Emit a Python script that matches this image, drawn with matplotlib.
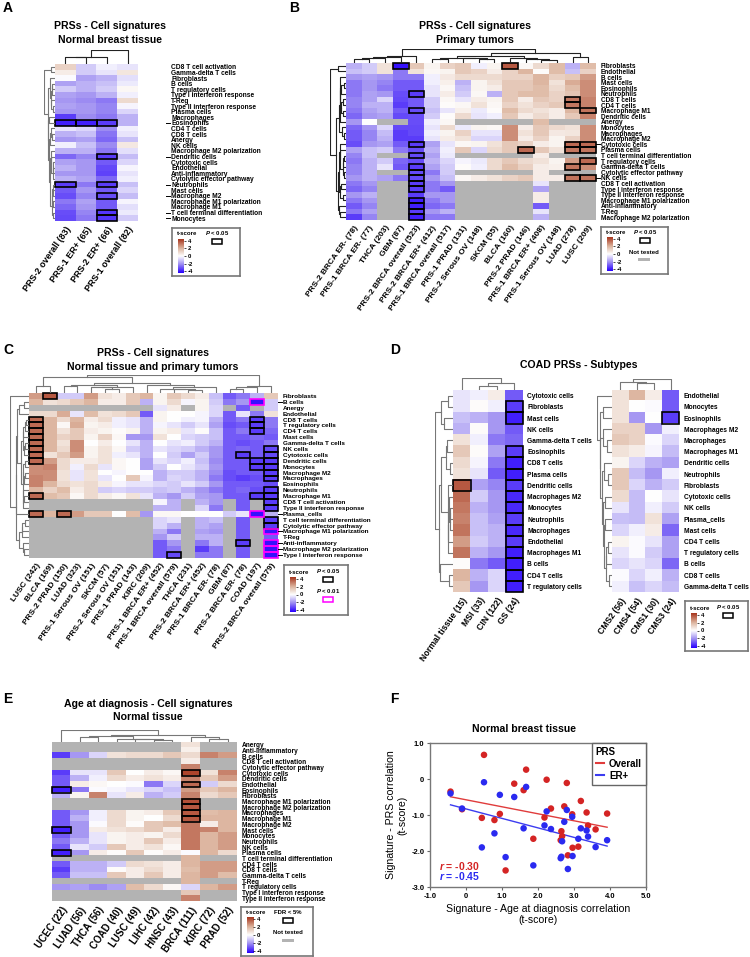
import numpy as np
import matplotlib
matplotlib.use('Agg')
import matplotlib.pyplot as plt
from matplotlib.colors import LinearSegmentedColormap
from matplotlib.patches import Rectangle
from matplotlib.lines import Line2D

plt.rcParams['font.family'] = ['Liberation Sans', 'DejaVu Sans']
plt.rcParams['font.weight'] = 'bold'
plt.rcParams['mathtext.fontset'] = 'custom'
plt.rcParams['mathtext.it'] = 'Liberation Sans:italic:bold'
plt.rcParams['mathtext.rm'] = 'Liberation Sans:bold'

N = float('nan')

# ---------------- Panel A ----------------
A_rows = ["CD8 T cell activation", "Gamma-delta T cells", "Fibroblasts", "B cells", "T regulatory cells",
          "Type I interferon response", "T-Reg", "Type II interferon response", "Plasma cells", "Macrophages",
          "Eosinophils", "CD4 T cells", "CD8 T cells", "Anergy", "NK cells", "Macrophage M2 polarization",
          "Dendritic cells", "Cytotoxic cells", "Endothelial", "Anti-inflammatory", "Cytolytic effector pathway",
          "Neutrophils", "Mast cells", "Macrophage M2", "Macrophage M1 polarization", "Macrophage M1",
          "T cell terminal differentiation", "Monocytes"]
A_cols = ["PRS-2 overall (83)", "PRS-1 ER+ (65)", "PRS-2 ER+ (66)", "PRS-1 overall (82)"]
A_vals = [
    [1.2, -1.0, -0.3, -0.5], [0.5, -1.0, -0.5, 0.7], [-0.1, -1.8, -1.5, -0.6], [-1.8, -1.5, -1.2, -0.4],
    [-1.0, -1.5, -1.0, 0.2], [-1.8, -2.0, -1.5, -0.3], [-2.0, -2.2, -2.5, 1.0], [-1.8, -2.0, -2.3, -0.2],
    [-2.0, -2.0, -2.3, -0.8], [-3.5, -2.2, -2.5, -1.5], [-4.0, -4.0, -3.5, -1.5], [-0.5, -0.8, -2.2, -0.3],
    [-1.5, -1.2, -2.6, -0.5], [-2.0, -1.8, -2.8, -1.2], [-0.3, -1.2, -2.2, 0.6], [-1.5, -1.5, -2.5, -0.6],
    [-2.8, -2.3, -3.5, -1.3], [-1.8, -2.0, -3.0, -0.8], [-1.5, -2.0, -3.3, -0.2], [-2.0, -2.0, -3.4, -0.5],
    [-1.5, -1.8, -2.8, -0.3], [-3.5, -2.5, -3.5, -1.2], [-3.0, -2.0, -3.0, -0.8], [-3.2, -2.3, -3.2, -1.3],
    [-2.5, -1.8, -3.0, -0.2], [-2.8, -2.0, -3.0, -0.6], [-3.2, -2.3, -3.6, -0.4], [-3.3, -2.5, -3.6, -1.0]]
A_sig = [(10, 0), (10, 1), (10, 2), (16, 2), (21, 0), (21, 2), (23, 2), (26, 2), (27, 2)]

# ---------------- Panel B ----------------
B_rows = ["Fibroblasts", "Endothelial", "B cells", "Mast cells", "Eosinophils", "Neutrophils", "CD8 T cells",
          "CD4 T cells", "Macrophage M1", "Dendritic cells", "Anergy", "Monocytes", "Macrophages", "Macrophage M2",
          "Cytotoxic cells", "Plasma cells", "T cell terminal differentiation", "T regulatory cells",
          "Gamma-delta T cells", "Cytolytic effector pathway", "NK cells", "CD8 T cell activation",
          "Type I interferon response", "Type II interferon response", "Macrophage M1 polarization",
          "Anti-inflammatory", "T-Reg", "Macrophage M2 polarization"]
B_cols = ["PRS-2 BRCA ER- (78)", "PRS-1 BRCA ER- (77)", "THCA (203)", "GBM (87)", "PRS-2 BRCA overall (523)",
          "PRS-2 BRCA ER+ (412)", "PRS-1 BRCA overall (517)", "PRS-1 PRAD (131)", "PRS-2 Serous OV (148)",
          "SKCM (55)", "BLCA (160)", "PRS-2 PRAD (146)", "PRS-1 BRCA ER+ (408)", "PRS-1 Serous OV (148)",
          "LUAD (278)", "LUSC (209)"]
B_vals = [
    [-1.5, -1.0, 0.8, -4.2, 1.5, 0.3, 1.2, 1.5, -0.3, 0.3, 3.8, 0.2, 1.0, 1.8, -1.5, 1.8],
    [-1.2, -1.0, 0.8, -2.5, 0.8, 0.2, 0.3, 1.5, 1.2, 0.5, 1.2, 2.0, 0.1, 1.8, -1.2, 1.2],
    [-2.0, -1.8, -2.0, -2.5, -2.5, -0.3, 0.6, 1.0, 1.0, 1.0, 1.2, 1.2, 2.0, 1.3, 1.5, 2.5],
    [-2.5, -2.0, -2.3, -3.0, -3.0, -0.3, 0.4, -1.5, 0.3, 0.8, 1.5, 1.5, 2.0, 0.8, 2.2, 2.8],
    [-2.5, -2.0, -2.5, -3.0, -3.0, -0.5, 0.2, -1.2, 0.3, 0.5, 1.5, 1.5, 1.8, 1.0, 1.8, 2.8],
    [-2.5, -1.8, -2.0, -3.2, -3.5, -0.5, 0.5, -1.0, 0.2, -1.5, 1.5, 1.8, 1.8, 1.2, 1.6, 2.8],
    [-2.3, -1.8, -0.8, -3.3, -3.0, -1.0, 0.2, -0.5, 0.5, 0.3, 1.5, 0.5, 1.5, 1.2, 3.2, 3.0],
    [-2.3, -1.5, -1.5, -3.5, -3.0, -1.0, 0.1, 0.2, 0.8, 0.2, 1.2, 0.8, 1.2, 1.5, 3.2, 3.0],
    [-2.5, -1.8, -1.5, -3.0, -3.2, -1.2, -0.5, 0.4, -0.4, 0.1, 1.8, 1.0, 0.8, 0.5, 2.0, 3.3],
    [-2.8, -2.0, -1.8, -3.3, -3.2, -1.0, 0.1, 1.0, -0.5, -0.3, 1.5, 0.5, 1.0, 0.5, 1.5, 3.0],
    [-2.0, 0.0, N, N, -3.2, -0.3, 0.2, N, N, N, N, N, 1.8, N, N, N],
    [-2.8, -2.0, -0.8, -3.3, -3.3, -0.5, 1.0, -0.4, 0.3, 0.2, 2.8, 0.5, 1.5, 1.0, 0.8, 2.8],
    [-3.0, -2.3, -1.3, -3.5, -3.3, -0.3, 0.3, 1.2, -0.5, -0.5, 2.8, 0.8, 1.5, 0.6, 0.7, 2.8],
    [-3.0, -2.3, -1.5, -3.5, -3.5, -0.5, 0.5, 0.8, -0.8, -0.8, 2.8, 0.5, 1.2, 0.3, 1.2, 2.8],
    [-3.2, -2.0, -1.8, -3.0, -3.5, -1.8, -0.5, 0.2, 0.3, 0.8, 1.5, 1.2, 0.5, 0.3, 3.5, 3.5],
    [-1.8, -1.2, -1.0, -2.5, -3.2, -1.5, -0.3, 1.5, -0.8, 1.0, 1.5, 3.5, 1.5, 0.8, 3.2, 3.3],
    [-2.3, -1.2, N, N, -3.3, -1.8, -0.4, N, N, N, N, N, 0.5, N, N, N],
    [-2.5, -1.5, -1.0, -2.8, -3.2, -1.5, -0.8, -0.2, -0.4, 1.0, 1.5, 1.0, 0.8, 0.3, 2.5, 3.5],
    [-2.3, -1.5, -0.5, -3.0, -3.5, -1.8, -1.0, 0.1, -0.3, 1.0, 1.8, 1.3, 0.5, 0.4, 3.3, 2.8],
    [-2.3, -1.5, N, N, -3.3, -2.5, -1.0, N, N, N, N, N, 0.5, N, N, N],
    [-2.0, -1.5, -1.8, -2.5, -3.3, -2.0, -1.2, 0.2, 0.5, 0.8, 1.2, 1.5, 0.5, 0.5, 3.3, 3.3],
    [-2.5, -2.0, N, N, -3.5, -2.5, -2.0, N, N, N, N, N, -0.5, N, N, N],
    [-2.8, -2.3, N, N, -3.5, -2.5, -3.0, N, N, N, N, N, -1.8, N, N, N],
    [-2.0, -1.5, N, N, -3.5, -2.0, -2.0, N, N, N, N, N, 0.5, N, N, N],
    [-2.5, -2.0, N, N, -4.0, -2.5, -2.0, N, N, N, N, N, 0.5, N, N, N],
    [-3.0, -2.3, N, N, -4.0, -2.8, -2.5, N, N, N, N, N, -3.0, N, N, N],
    [-2.5, -1.8, N, N, -3.5, -2.0, -1.5, N, N, N, N, N, -0.5, N, N, N],
    [-3.5, -2.3, N, N, -4.0, -2.5, -2.5, N, N, N, N, N, -1.5, N, N, N]]
B_sig = [(0, 3), (0, 10), (5, 4), (8, 4), (14, 4), (16, 4), (18, 4), (19, 4), (20, 4), (21, 4), (22, 4),
         (24, 4), (25, 4), (26, 4), (27, 4), (6, 14), (7, 14), (8, 15), (14, 14), (14, 15), (15, 11),
         (15, 14), (15, 15), (17, 15), (18, 14), (20, 14), (20, 15)]

# ---------------- Panel C ----------------
C_rows = ["Fibroblasts", "B cells", "Anergy", "Endothelial", "CD8 T cells", "T regulatory cells", "CD4 T cells",
          "Mast cells", "Gamma-delta T cells", "NK cells", "Cytotoxic cells", "Dendritic cells", "Monocytes",
          "Macrophage M2", "Macrophages", "Eosinophils", "Neutrophils", "Macrophage M1", "CD8 T cell activation",
          "Type II interferon response", "Plasma_cells", "T cell terminal differentiation",
          "Cytolytic effector pathway", "Macrophage M1 polarization", "T-Reg", "Anti-inflammatory",
          "Macrophage M2 polarization", "Type I interferon response"]
C_cols = ["LUSC (242)", "BLCA (169)", "PRS-2 PRAD (150)", "LUAD (323)", "PRS-1 Serous OV (151)", "SKCM (57)",
          "PRS-2 Serous OV (151)", "PRS-1 PRAD (143)", "KIRC (209)", "PRS-1 BRCA ER+ (452)",
          "PRS-1 BRCA overall (579)", "THCA (231)", "PRS-2 BRCA ER+ (452)", "PRS-1 BRCA ER- (78)", "GBM (87)",
          "PRS-2 BRCA ER- (78)", "COAD (197)", "PRS-2 BRCA overall (579)"]
C_vals = [
    [2.5, 3.8, -1.0, -1.0, 2.5, 0.8, 0.5, 1.5, 2.0, 0.3, 1.5, 1.0, 0.5, -1.2, -3.0, -2.5, -1.5, 1.5],
    [2.0, 0.8, 1.0, 1.5, 2.0, 0.5, 0.5, 1.5, -1.5, 0.3, 1.0, -0.2, 0.3, -1.0, -2.5, -2.0, -4.2, -1.0],
    [N, N, N, N, N, N, N, N, N, -0.5, 0.5, N, 0.3, -0.8, N, -3.0, N, -1.0],
    [1.0, 1.0, 2.2, -0.5, 1.8, 0.8, 1.0, 1.5, -3.0, 0.3, 0.0, 0.0, -0.2, -0.8, -3.0, -0.5, -2.5, 0.8],
    [3.5, 2.0, 1.0, 2.0, 0.5, 1.0, -0.3, -0.5, -1.5, 0.3, 0.0, -0.3, -0.2, -1.5, -3.0, -2.5, -3.5, -2.5],
    [3.5, 2.0, 0.2, 2.2, 0.3, 0.5, -0.3, -0.5, -1.5, -0.2, -0.5, -1.0, -0.5, -1.8, -3.2, -3.0, -3.5, -2.5],
    [3.5, 2.0, 0.8, 1.5, 0.5, 0.3, 0.1, 0.3, -1.5, 0.3, 0.5, -0.5, 0.1, -1.2, -3.0, -2.5, -3.5, -2.8],
    [3.5, 2.0, 1.2, 1.5, 0.3, 1.2, 0.2, -2.0, -2.0, 0.8, 0.0, -0.8, -1.0, -1.2, -3.0, -3.0, -2.8, -3.0],
    [3.5, 2.0, 0.8, 2.8, 0.0, 0.5, 0.0, -0.5, -1.5, 0.0, -0.5, -0.3, -1.0, -1.5, -3.0, -3.2, -3.0, -2.5],
    [3.5, 2.0, 1.0, 2.8, 0.3, 0.8, 0.2, -1.0, -1.5, -0.5, -0.8, -1.0, -1.5, -2.0, -3.0, -2.8, -3.0, -3.3],
    [3.5, 0.8, 1.5, 2.5, 0.3, 0.8, -0.3, -0.5, -1.5, 0.0, -1.0, -1.8, -1.0, -2.0, -3.0, -3.5, -3.0, -3.3],
    [3.5, 2.5, 1.0, 0.5, 0.5, 0.8, 0.2, 0.0, -1.8, -0.5, -0.8, -0.3, -1.2, -2.2, -3.0, -3.0, -3.5, -3.5],
    [2.8, 3.0, 1.0, -0.3, 1.0, -0.5, 0.2, 0.0, -1.8, -1.0, 0.0, -0.5, -1.0, -2.0, -3.0, -3.0, -3.5, -3.5],
    [2.8, 2.8, 0.8, -0.5, 0.8, 0.0, -0.2, 0.0, 0.0, -1.5, -1.0, -1.0, -1.5, -2.2, -3.2, -3.0, -3.0, -3.5],
    [3.0, 2.8, 0.8, -0.5, 0.8, -0.5, 0.0, 1.5, -0.2, -1.5, -0.8, -1.0, -1.5, -2.5, -3.2, -3.5, -3.2, -3.5],
    [3.0, 2.0, 1.0, 0.8, 1.0, 0.5, -0.2, -0.5, -0.5, -0.8, -1.0, -0.5, -1.0, -2.0, -3.0, -3.0, -3.0, -3.2],
    [2.0, 1.2, 1.8, 0.5, 1.0, -1.0, -0.8, -1.0, -1.0, -1.2, -1.0, -1.5, -2.0, -2.5, -3.0, -2.8, -3.2, -3.5],
    [3.5, 1.8, 1.5, 0.2, 1.0, 0.5, 0.2, 0.8, -0.5, -1.5, -2.0, -1.0, -1.8, -2.0, -3.0, -3.0, -3.5, -3.5],
    [N, N, N, N, N, N, N, N, N, -0.2, -1.5, N, -1.5, -2.0, N, -3.0, N, -3.5],
    [N, N, N, N, N, N, N, N, N, -1.5, -1.5, N, -0.8, -2.5, N, -3.0, N, -3.5],
    [3.5, 2.0, 3.5, 2.5, 1.5, 1.5, 0.0, 1.8, -2.0, 0.2, 0.2, 0.0, 0.0, 0.0, -1.0, -0.5, -4.2, -1.5],
    [N, N, N, N, N, N, N, N, N, -0.8, -0.5, N, -1.5, -1.2, N, -3.0, N, -3.5],
    [N, N, N, N, N, N, N, N, N, -0.8, -1.5, N, -1.5, -1.8, N, -3.0, N, -3.5],
    [N, N, N, N, N, N, N, N, N, -1.5, -2.5, N, -1.8, -2.0, N, -3.0, N, -4.2],
    [N, N, N, N, N, N, N, N, N, -2.0, -1.0, N, -1.5, -1.5, N, -3.0, N, -3.0],
    [N, N, N, N, N, N, N, N, N, -3.0, -2.0, N, -2.5, -1.5, N, -3.5, N, -4.2],
    [N, N, N, N, N, N, N, N, N, -3.0, -2.5, N, -3.5, -2.5, N, -3.0, N, -4.2],
    [N, N, N, N, N, N, N, N, N, -3.0, -3.3, N, -2.5, -2.5, N, -3.0, N, -4.2]]
C_sig = [(0, 1), (4, 0), (5, 0), (6, 0), (7, 0), (8, 0), (9, 0), (10, 0), (11, 0), (17, 0), (20, 0), (20, 2),
         (4, 16), (5, 16), (6, 16), (10, 15), (11, 16), (12, 16), (17, 16), (9, 17), (10, 17), (11, 17),
         (12, 17), (13, 17), (14, 17), (16, 17), (17, 17), (18, 17), (19, 17), (21, 17), (22, 17), (25, 15),
         (27, 10)]
C_sig01 = [(1, 16), (20, 16), (23, 17), (25, 17), (26, 17), (27, 17)]

# ---------------- Panel D ----------------
D1_rows = ["Cytotoxic cells", "Fibroblasts", "Mast cells", "NK cells", "Gamma-delta T cells", "Eosinophils",
           "CD8 T cells", "Plasma cells", "Dendritic cells", "Macrophages M2", "Monocytes", "Neutrophils",
           "Macrophages", "Endothelial", "Macrophages M1", "B cells", "CD4 T cells", "T regulatory cells"]
D1_cols = ["Normal tissue (15)", "MSI (33)", "CIN (122)", "GS (24)"]
D1_vals = [
    [-0.5, -0.3, 0.5, -3.0], [-0.5, 0.1, -0.3, -3.5], [-1.2, -1.5, -2.0, -4.0], [-1.5, 0.1, -2.0, -3.0],
    [0.8, -0.3, -2.5, -2.8], [1.5, 0.1, -1.8, -3.5], [1.0, -0.2, -2.5, -4.0], [0.8, -0.5, -3.0, -4.0],
    [3.8, -1.8, -2.3, -3.5], [3.5, -1.0, -2.0, -3.8], [3.2, -1.5, -2.0, -3.8], [3.0, -1.2, -1.8, -3.5],
    [3.3, -1.2, -1.5, -3.8], [2.5, -1.0, -1.5, -3.5], [3.3, -1.5, -2.0, -4.0], [0.1, -2.5, -3.0, -4.0],
    [2.0, -1.5, -0.8, -4.0], [1.5, -2.0, -0.8, -4.0]]
D1_sig = [(8, 0), (1, 3), (2, 3), (5, 3), (6, 3), (7, 3), (8, 3), (9, 3), (10, 3), (11, 3), (12, 3), (13, 3),
          (14, 3), (15, 3), (16, 3), (17, 3)]
D2_rows = ["Endothelial", "Monocytes", "Eosinophils", "Macrophages M2", "Macrophages", "Macrophages M1",
           "Dendritic cells", "Neutrophils", "Fibroblasts", "Cytotoxic cells", "NK cells", "Plasma_cells",
           "Mast cells", "CD4 T cells", "T regulatory cells", "B cells", "CD8 T cells", "Gamma-delta T cells"]
D2_cols = ["CMS2 (56)", "CMS4 (54)", "CMS1 (30)", "CMS3 (24)"]
D2_vals = [
    [0.8, 2.0, 0.5, -3.0], [0.8, 0.0, -0.1, -3.0], [0.8, -2.0, 0.0, -3.5], [1.2, 1.2, -2.0, -0.3],
    [1.5, 1.2, -0.1, -0.8], [0.8, 0.5, -0.2, -1.3], [0.3, -0.8, -1.5, -1.8], [1.5, -1.3, -2.0, -0.3],
    [1.5, -0.8, -1.5, -1.0], [1.0, -1.3, 0.0, -0.5], [-0.5, -1.3, -0.3, -1.0], [-1.2, -1.3, 0.8, -1.8],
    [-0.8, -0.3, 0.5, -2.8], [0.3, -0.1, -0.5, -1.8], [-0.5, -0.1, -1.0, -1.8], [-0.8, -0.5, -0.8, -2.8],
    [-0.1, -0.8, -0.3, -1.5], [-0.3, -1.2, -0.8, -1.3]]
D2_sig = [(2, 3)]

# ---------------- Panel E ----------------
E_rows = ["Anergy", "Anti-inflammatory", "B cells", "CD8 T cell activation", "Cytolytic effector pathway",
          "Cytotoxic cells", "Dendritic cells", "Endothelial", "Eosinophils", "Fibroblasts",
          "Macrophage M1 polarization", "Macrophage M2 polarization", "Macrophages", "Macrophage M1",
          "Macrophage M2", "Mast cells", "Monocytes", "Neutrophils", "NK cells", "Plasma cells",
          "T cell terminal differentiation", "CD4 T cells", "CD8 T cells", "Gamma-delta T cells", "T-Reg",
          "T regulatory cells", "Type I interferon response", "Type II interferon response"]
E_cols = ["UCEC (22)", "LUAD (56)", "THCA (56)", "COAD (40)", "LUSC (49)", "LIHC (42)", "HNSC (43)",
          "BRCA (111)", "KIRC (72)", "PRAD (52)"]
E_vals = [
    [N, N, N, N, N, N, N, 0.8, N, N], [N, N, N, N, N, N, N, 0.4, N, N],
    [-3.5, -2.0, -0.8, 0.8, 1.0, 1.0, 1.5, 1.0, 3.0, 2.5], [N, N, N, N, N, N, N, 0.5, N, N],
    [N, N, N, N, N, N, N, 3.0, N, N], [-3.5, -0.5, -0.5, 1.5, 0.0, 0.5, 0.2, 4.2, 0.8, 3.0],
    [-3.0, -1.5, -0.3, 1.0, 0.5, 0.8, 0.5, 3.0, 1.5, 2.5], [-3.0, 0.5, 0.2, 0.0, -0.1, -2.5, -0.8, 3.5, -1.0, 1.0],
    [-4.0, -2.5, -0.1, -0.2, -0.5, -0.8, -1.2, 2.5, 1.5, 2.0], [-1.5, 0.3, 3.0, -0.5, 0.5, -1.5, -1.0, 3.0, 1.0, 1.5],
    [N, N, N, N, N, N, N, 4.0, N, N], [N, N, N, N, N, N, N, 3.8, N, N],
    [-3.0, -2.0, -0.3, 1.0, 0.3, 0.5, 1.5, 3.8, 1.8, 2.0], [-3.0, -1.5, -0.3, 1.0, 0.3, 0.0, 1.0, 3.8, 2.0, 2.0],
    [-3.0, -2.0, -0.1, 1.0, 0.1, 1.5, 1.8, 3.2, 0.5, 2.0], [-4.0, -2.0, 0.5, 0.8, 1.0, 1.5, 0.5, 3.2, 3.0, 2.0],
    [-3.0, -2.0, -0.5, 0.3, 0.5, 0.3, 1.0, 3.2, 2.0, 2.5], [-2.5, -1.5, -0.5, 0.3, 0.5, 1.5, 0.5, 3.2, 2.0, 2.5],
    [-3.0, -0.5, -1.0, 1.5, 0.5, 0.8, 0.2, 3.2, 2.0, 2.5], [-4.0, -2.0, 0.5, 0.1, 1.5, 0.1, 0.5, -0.1, 2.0, 1.0],
    [N, N, N, N, N, N, N, 2.0, N, N], [-3.0, -1.5, -1.5, -1.0, 1.0, 0.8, 0.5, 2.0, 2.5, 2.5],
    [-3.5, -1.5, -1.5, 0.1, 0.5, 1.0, 0.5, 1.8, 2.5, 2.5], [-3.0, -1.2, -1.2, 1.5, 0.5, 1.5, 0.5, 2.0, 2.5, 1.8],
    [N, N, N, N, N, N, N, 2.0, N, N], [-2.0, -1.8, -2.2, -1.8, 1.8, 1.0, 0.2, -0.8, 2.0, 2.5],
    [N, N, N, N, N, N, N, 1.5, N, N], [N, N, N, N, N, N, N, 3.0, N, N]]
E_sig = [(5, 7), (7, 7), (8, 0), (10, 7), (11, 7), (12, 7), (13, 7), (15, 0), (19, 0)]

# ---------------- Panel F ----------------
F_age_t = [-0.43, 0.50, -0.11, 0.44, 0.79, 0.94, 1.34, 1.60, 1.67, 1.87, 1.10, 2.24, 2.18, 2.36, 2.73, 2.80,
           2.65, 2.67, 2.63, 2.95, 2.96, 2.83, 3.12, 3.19, 3.35, 3.39, 3.60, 3.92]
F_overall = [-0.35, 0.67, -0.84, -1.08, -1.14, -0.97, -0.13, -0.31, 0.26, -1.66, -2.54, -0.02, -1.07, -0.82,
             -0.76, -0.11, -1.45, -1.59, -1.70, -0.98, -1.91, -2.12, -1.88, -0.61, -0.93, -1.29, -1.40, -0.96]
F_erpos = [-0.40, -0.09, -0.82, -1.90, -1.51, -0.44, -0.50, -1.37, -0.22, -2.40, -2.17, -0.90, -1.29, -1.39,
           -1.19, -0.86, -2.16, -1.73, -2.20, -1.05, -2.14, -2.50, -1.66, -1.37, -1.43, -1.60, -1.89, -1.70]
F_r = {"Overall": -0.30, "ER+": -0.45}

# =====================================================================
W, H = 750, 957
fig = plt.figure(figsize=(7.5, 9.57), dpi=100)

cmap = LinearSegmentedColormap.from_list(
    'tscore', [(0, '#2800ff'), (0.27, '#a394f2'), (0.5, '#ffffff'), (0.73, '#dcb49e'), (1, '#a8361e')]
).with_extremes(bad='#b3b3b3')
VMIN, VMAX = -4.5, 4.5
GREY = '#b3b3b3'
MAG = '#ff00ff'
TFS = 7.6


def frect(x0, y0, x1, y1):
    return [x0 / W, 1 - y1 / H, (x1 - x0) / W, (y1 - y0) / H]


def adjacent_tree(M):
    M = np.asarray(M, float)
    n = len(M)
    D = np.zeros((n, n))
    for i in range(n):
        for j in range(n):
            ok = ~np.isnan(M[i]) & ~np.isnan(M[j])
            D[i, j] = np.sqrt(np.mean((M[i, ok] - M[j, ok]) ** 2)) if ok.any() else np.nan
    D[np.isnan(D)] = np.nanmax(D)
    clusters = [([i], float(i), 0.0) for i in range(n)]
    links = []
    while len(clusters) > 1:
        best, bk = np.inf, 0
        for k in range(len(clusters) - 1):
            d = np.mean([D[i, j] for i in clusters[k][0] for j in clusters[k + 1][0]])
            if d < best:
                best, bk = d, k
        a, b = clusters[bk], clusters[bk + 1]
        h = max(best, a[2], b[2]) + 0.05
        links.append((a[1], a[2], b[1], b[2], h))
        clusters[bk:bk + 2] = [(a[0] + b[0], (a[1] + b[1]) / 2, h)]
    return links


def draw_dendro(rect, M, orient, color):
    ax = fig.add_axes(frect(*rect))
    links = adjacent_tree(M)
    hmax = max(l[4] for l in links)
    n = len(M)
    for p1, h1, p2, h2, h in links:
        if orient == 'top':
            ax.plot([p1, p1, p2, p2], [h1, h, h, h2], color=color, lw=0.8)
        else:
            ax.plot([h1, h, h, h2], [p1, p1, p2, p2], color=color, lw=0.8)
    if orient == 'top':
        ax.set_xlim(-0.5, n - 0.5)
        ax.set_ylim(0, hmax * 1.02)
    else:
        ax.set_ylim(n - 0.5, -0.5)
        ax.set_xlim(hmax * 1.02, 0)
    ax.axis('off')


def draw_heat(rect, data, rows, cols, sig=(), sig2=(), row_fs=4.7, col_fs=6.2, label_x=None, dash_rows=(),
              col_dendro=None, row_dendro=None, dcolor='black', rcolor=None, rot=55):
    x0, y0, x1, y1 = rect
    M = np.array(data, float)
    nr, nc = M.shape
    ax = fig.add_axes(frect(*rect))
    ax.imshow(np.ma.masked_invalid(M), cmap=cmap, vmin=VMIN, vmax=VMAX, aspect='auto', interpolation='nearest')
    for r, c in sig:
        ax.add_patch(Rectangle((c - 0.5, r - 0.5), 1, 1, fill=False, ec='black', lw=1.2, clip_on=False))
    for r, c in sig2:
        ax.add_patch(Rectangle((c - 0.5, r - 0.5), 1, 1, fill=False, ec=MAG, lw=1.2, clip_on=False))
    lx = label_x if label_x else x1 + 5
    ax.set_yticks(range(nr))
    ax.set_yticklabels(rows, fontsize=row_fs)
    ax.yaxis.tick_right()
    ax.tick_params(axis='y', length=0, pad=(lx - x1) * 0.72)
    ax.set_xticks(range(nc))
    ax.set_xticklabels(cols, rotation=rot, ha='right', rotation_mode='anchor', fontsize=col_fs)
    ax.tick_params(axis='x', length=0, pad=3)
    for sp in ax.spines.values():
        sp.set_visible(False)
    rowh = (y1 - y0) / nr
    for r in dash_rows:
        yy = 1 - (y0 + (r + 0.5) * rowh) / H
        fig.add_artist(Line2D([(lx - 5) / W, (lx - 1) / W], [yy, yy], color='black', lw=0.7))
    if col_dendro:
        draw_dendro(col_dendro, M.T, 'top', dcolor)
    if row_dendro:
        draw_dendro(row_dendro, M, 'left', rcolor or dcolor)
    return ax


def legend_box(rect, entries, cb):
    x0, y0, x1, y1 = rect
    ax = fig.add_axes(frect(*rect))
    ax.set_xlim(0, x1 - x0)
    ax.set_ylim(y1 - y0, 0)
    ax.set_xticks([])
    ax.set_yticks([])
    for sp in ax.spines.values():
        sp.set_color('#777777')
        sp.set_linewidth(1.2)
    ax.text(cb[0] - 1, cb[1] - 5, 't-score', fontsize=4.3, va='center', ha='left')
    cax = fig.add_axes(frect(x0 + cb[0], y0 + cb[1], x0 + cb[0] + 6, y0 + cb[2]))
    cax.imshow(np.linspace(VMAX, VMIN, 100)[:, None], cmap=cmap, vmin=VMIN, vmax=VMAX, aspect='auto',
               extent=[0, 1, VMIN, VMAX])
    cax.set_xticks([])
    cax.set_yticks([4, 2, 0, -2, -4])
    cax.set_yticklabels(['4', '2', '0', '-2', '-4'], fontsize=4.2)
    cax.yaxis.tick_right()
    cax.tick_params(axis='y', length=1.5, pad=1, width=0.5)
    for sp in cax.spines.values():
        sp.set_visible(False)
    for kind, label, (lx, ly) in entries:
        ax.text(lx, ly, label, fontsize=4.3, ha='center', va='center')
        if kind == 'box':
            ax.add_patch(Rectangle((lx - 5, ly + 6), 10, 5, fill=False, ec='black', lw=1.1))
        elif kind == 'mag':
            ax.add_patch(Rectangle((lx - 5, ly + 6), 10, 5, fill=False, ec=MAG, lw=1.1))
        elif kind == 'grey':
            ax.add_patch(Rectangle((lx - 6, ly + 6), 12, 3, color=GREY, lw=0))


def ftext(x, y, s, **kw):
    fig.text(x / W, 1 - y / H, s, **kw)


# ---------- A ----------
ftext(3, 8, 'A', fontsize=10, va='center')
ftext(110, 26, 'PRSs - Cell signatures', fontsize=TFS, ha='center', va='center')
ftext(110, 40, 'Normal breast tissue', fontsize=TFS, ha='center', va='center')
draw_heat((55, 64, 138, 221), A_vals, A_rows, A_cols, sig=A_sig, row_fs=4.8, col_fs=6.5, label_x=171,
          dash_rows=sorted(set(r for r, c in A_sig)), col_dendro=(55, 50, 138, 64),
          row_dendro=(44, 64, 55, 221), dcolor='#222222', rcolor='#777777')
legend_box((172, 228, 240, 276), [('box', '$P$ < 0.05', (45, 5))], cb=(6, 11, 45))

# ---------- B ----------
ftext(289, 8, 'B', fontsize=10, va='center')
ftext(475, 26, 'PRSs - Cell signatures', fontsize=TFS, ha='center', va='center')
ftext(475, 40, 'Primary tumors', fontsize=TFS, ha='center', va='center')
draw_heat((346, 63, 596, 220), B_vals, B_rows, B_cols, sig=B_sig, row_fs=4.7, col_fs=6.0, label_x=601,
          dash_rows=[14, 20], col_dendro=(346, 49, 596, 63), row_dendro=(330, 63, 346, 220), dcolor='#222222')
legend_box((601, 227, 668, 274), [('box', '$P$ < 0.05', (44, 5)), ('grey', 'Not tested', (43, 25))],
           cb=(6, 10, 44))

# ---------- C ----------
ftext(3, 350, 'C', fontsize=10, va='center')
ftext(153, 353, 'PRSs - Cell signatures', fontsize=TFS, ha='center', va='center')
ftext(153, 367, 'Normal tissue and primary tumors', fontsize=TFS, ha='center', va='center')
draw_heat((29, 393, 278, 558), C_vals, C_rows, C_cols, sig=C_sig, sig2=C_sig01, row_fs=4.6, col_fs=6.0,
          label_x=283, dash_rows=[r for r, c in C_sig01], col_dendro=(29, 375, 278, 393),
          row_dendro=(10, 393, 29, 558), dcolor='#777777')
legend_box((284, 565, 348, 615), [('box', '$P$ < 0.05', (44, 6)), ('mag', '$P$ < 0.01', (44, 26))],
           cb=(6, 12, 47))

# ---------- D ----------
ftext(390, 350, 'D', fontsize=10, va='center')
ftext(579, 365, 'COAD PRSs - Subtypes', fontsize=TFS, ha='center', va='center')
draw_heat((453, 390, 523, 592), D1_vals, D1_rows, D1_cols, sig=D1_sig, row_fs=4.8, col_fs=6.2, label_x=527,
          col_dendro=(453, 378, 523, 390), row_dendro=(435, 390, 453, 592), dcolor='#777777')
draw_heat((612, 390, 679, 592), D2_vals, D2_rows, D2_cols, sig=D2_sig, row_fs=4.8, col_fs=6.2, label_x=684,
          col_dendro=(612, 379, 679, 390), row_dendro=(597, 390, 612, 592), dcolor='#777777')
legend_box((685, 601, 748, 651), [('box', '$P$ < 0.05', (43, 6))], cb=(6, 12, 47))

# ---------- E ----------
ftext(3, 699, 'E', fontsize=10, va='center')
ftext(148, 704, 'Age at diagnosis - Cell signatures', fontsize=TFS, ha='center', va='center')
ftext(148, 717, 'Normal tissue', fontsize=TFS, ha='center', va='center')
draw_heat((52, 742, 237, 901), E_vals, E_rows, E_cols, sig=E_sig, row_fs=4.7, col_fs=7.0, label_x=242,
          col_dendro=(52, 730, 237, 742), dcolor='#777777')
legend_box((241, 907, 313, 956), [('box', 'FDR < 5%', (47, 5)), ('grey', 'Not tested', (47, 26))],
           cb=(6, 10, 46))

# ---------- F ----------
ftext(390, 699, 'F', fontsize=10, va='center')
ftext(524, 729, 'Normal breast tissue', fontsize=TFS, ha='center', va='center')
axF = fig.add_axes(frect(430, 743, 646, 887))
RED, BLUE = '#d42424', '#2a2af0'
x = np.array(F_age_t)
for yv, col in ((F_overall, RED), (F_erpos, BLUE)):
    axF.scatter(x, yv, s=22, color=col, edgecolors='none', zorder=3)
for yv, col in ((F_overall, '#e03c3c'), (F_erpos, '#3c3cf0')):
    k, b = np.polyfit(x, np.array(yv), 1)
    xx = np.array([x.min(), x.max()])
    axF.plot(xx, k * xx + b, color=col, lw=1.0, zorder=2)
axF.set_xlim(-1, 5)
axF.set_ylim(-3, 1)
axF.set_xticks([-1, 0, 1, 2, 3, 4, 5])
axF.set_xticklabels(['-1.0', '0', '1.0', '2.0', '3.0', '4.0', '5.0'], fontsize=5.5)
axF.set_yticks([1, 0, -1, -2, -3])
axF.set_yticklabels(['1.0', '0', '-1.0', '-2.0', '-3.0'], fontsize=5.5)
axF.tick_params(length=2, width=0.8, color='#666666', pad=2)
for sp in axF.spines.values():
    sp.set_color('#777777')
    sp.set_linewidth(1.0)
axF.set_xlabel('Signature - Age at diagnosis correlation\n(t-score)', fontsize=7.6, labelpad=3)
axF.set_ylabel('Signature - PRS correlation\n(t-score)', fontsize=7.6, labelpad=3)
axF.text(-0.75, -2.42, '$r$ = %.2f' % F_r['Overall'], color=RED, fontsize=7.5, va='center')
axF.text(-0.75, -2.70, '$r$ = %.2f' % F_r['ER+'], color=BLUE, fontsize=7.5, va='center')
handles = [Line2D([0], [0], color='#e03c3c', lw=1.5, label='Overall'),
           Line2D([0], [0], color='#3c3cf0', lw=1.5, label='ER+')]
leg = axF.legend(handles=handles, title='PRS', loc='upper right', borderaxespad=0, fontsize=7,
                 title_fontsize=7, handlelength=0.9, handletextpad=0.5, fancybox=False, edgecolor='#666666',
                 alignment='left', borderpad=0.4, labelspacing=0.2, framealpha=1)
leg.get_frame().set_linewidth(1.0)

fig.savefig('out.png', dpi=100)
